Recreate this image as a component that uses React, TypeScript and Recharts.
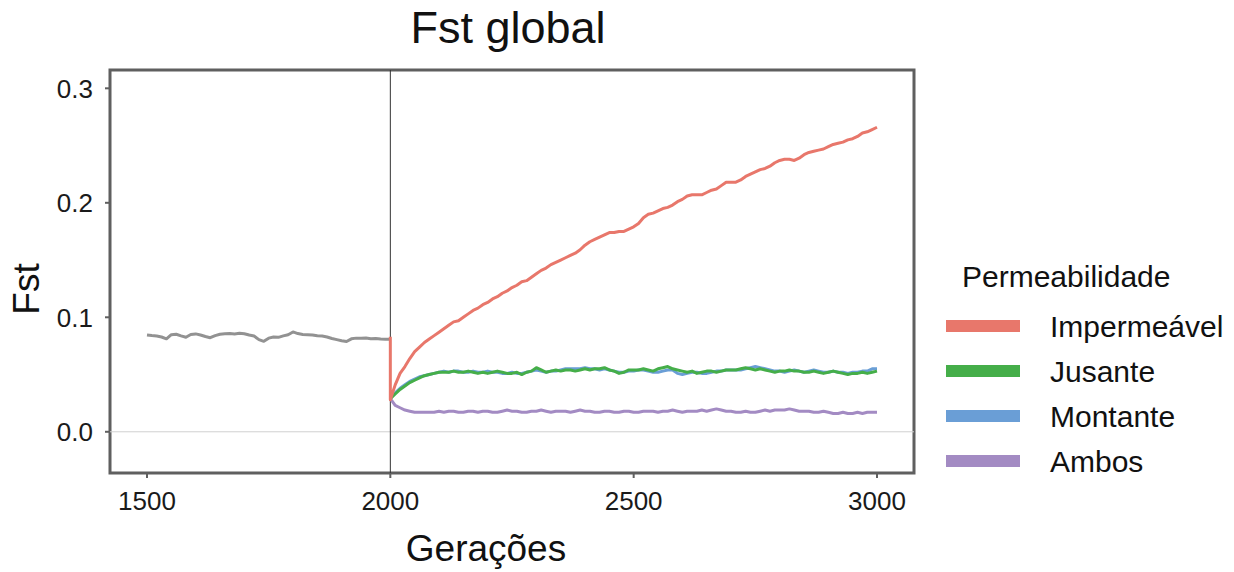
import React from "react";
import { LineChart, Line, XAxis, YAxis, ReferenceLine, ReferenceArea } from "recharts";

const FONT = "'Liberation Sans', Arial, sans-serif";

// gerações: pre-fragmentation 1500..2000, post 2000..3000, every 10 generations
const PRE_START = 1500;
const POST_START = 2000;
const STEP = 10;

const antesValores = [
  0.0845, 0.084, 0.0836, 0.0828, 0.0812, 0.0848, 0.0852, 0.0838, 0.0826, 0.085,
  0.0855, 0.0845, 0.0832, 0.0822, 0.084, 0.0852, 0.0856, 0.0858, 0.0855, 0.086,
  0.0856, 0.0845, 0.0836, 0.0805, 0.079, 0.0818, 0.0828, 0.0825, 0.0838, 0.0848,
  0.0872, 0.0858, 0.085, 0.0848, 0.0845, 0.0838, 0.0836, 0.0828, 0.0815, 0.0805,
  0.0795, 0.0788, 0.0812, 0.0818, 0.0818, 0.082, 0.0812, 0.0815, 0.081, 0.0808,
  0.0808,
];

const impermeavel = [
  0.028, 0.041, 0.051, 0.057, 0.064, 0.07, 0.074, 0.078, 0.081, 0.084,
  0.087, 0.09, 0.093, 0.096, 0.097, 0.1, 0.103, 0.106, 0.108, 0.111,
  0.113, 0.116, 0.118, 0.121, 0.123, 0.126, 0.128, 0.131, 0.132, 0.135,
  0.138, 0.141, 0.143, 0.146, 0.148, 0.15, 0.152, 0.154, 0.156, 0.159,
  0.163, 0.166, 0.168, 0.17, 0.172, 0.174, 0.174, 0.175, 0.175, 0.177,
  0.179, 0.182, 0.187, 0.19, 0.191, 0.193, 0.195, 0.196, 0.198, 0.201,
  0.203, 0.206, 0.207, 0.207, 0.207, 0.209, 0.211, 0.212, 0.215, 0.218,
  0.218, 0.218, 0.22, 0.223, 0.225, 0.227, 0.229, 0.23, 0.232, 0.235,
  0.237, 0.238, 0.238, 0.237, 0.239, 0.242, 0.244, 0.245, 0.246, 0.247,
  0.249, 0.251, 0.252, 0.253, 0.255, 0.256, 0.258, 0.261, 0.262, 0.264,
  0.266,
];

const jusante = [
  0.029, 0.033, 0.037, 0.04, 0.043, 0.045, 0.047, 0.049, 0.05, 0.051,
  0.052, 0.052, 0.052, 0.053, 0.052, 0.052, 0.053, 0.052, 0.051, 0.052,
  0.051, 0.052, 0.053, 0.052, 0.051, 0.051, 0.052, 0.05, 0.052, 0.053,
  0.056, 0.054, 0.052, 0.053, 0.054, 0.053, 0.054, 0.054, 0.053, 0.054,
  0.055, 0.054, 0.055, 0.055, 0.056, 0.054, 0.053, 0.051, 0.052, 0.054,
  0.054, 0.054, 0.055, 0.054, 0.053, 0.055, 0.056, 0.057, 0.055, 0.054,
  0.053, 0.052, 0.053, 0.051, 0.052, 0.053, 0.053, 0.052, 0.053, 0.054,
  0.054, 0.054, 0.055, 0.056, 0.055, 0.054, 0.055, 0.054, 0.053, 0.052,
  0.053, 0.053, 0.054, 0.053, 0.053, 0.052, 0.052, 0.053, 0.052, 0.051,
  0.052, 0.053, 0.052, 0.051, 0.05, 0.051, 0.051, 0.052, 0.051, 0.052,
  0.053,
];

const montante = [
  0.029, 0.034, 0.038, 0.041, 0.044, 0.046, 0.048, 0.049, 0.05, 0.051,
  0.052, 0.053, 0.052, 0.053, 0.053, 0.052, 0.052, 0.053, 0.052, 0.052,
  0.053, 0.052, 0.052, 0.051, 0.051, 0.052, 0.051, 0.051, 0.052, 0.053,
  0.054, 0.053, 0.052, 0.053, 0.053, 0.054, 0.055, 0.055, 0.055, 0.055,
  0.056, 0.055, 0.055, 0.054, 0.055, 0.054, 0.053, 0.052, 0.052, 0.053,
  0.053, 0.054, 0.054, 0.053, 0.052, 0.052, 0.053, 0.054, 0.054, 0.051,
  0.05, 0.051, 0.052, 0.052, 0.051, 0.051, 0.052, 0.053, 0.053, 0.054,
  0.054, 0.054, 0.054, 0.055, 0.056, 0.057, 0.056, 0.055, 0.054, 0.053,
  0.053, 0.052, 0.053, 0.054, 0.053, 0.052, 0.053, 0.054, 0.053, 0.052,
  0.052, 0.053, 0.052, 0.052, 0.051, 0.052, 0.052, 0.053, 0.053, 0.055,
  0.055,
];

const ambos = [
  0.029, 0.023, 0.021, 0.019, 0.018, 0.017, 0.017, 0.017, 0.017, 0.017,
  0.018, 0.017, 0.018, 0.018, 0.017, 0.017, 0.018, 0.018, 0.017, 0.018,
  0.018, 0.017, 0.017, 0.018, 0.019, 0.018, 0.018, 0.017, 0.017, 0.018,
  0.018, 0.019, 0.018, 0.017, 0.018, 0.018, 0.018, 0.017, 0.018, 0.019,
  0.018, 0.018, 0.017, 0.017, 0.018, 0.018, 0.017, 0.017, 0.018, 0.018,
  0.017, 0.017, 0.018, 0.018, 0.018, 0.017, 0.018, 0.018, 0.019, 0.018,
  0.017, 0.018, 0.018, 0.018, 0.019, 0.018, 0.019, 0.02, 0.019, 0.018,
  0.018, 0.017, 0.017, 0.018, 0.017, 0.017, 0.018, 0.019, 0.018, 0.019,
  0.019, 0.019, 0.02, 0.019, 0.018, 0.018, 0.018, 0.017, 0.017, 0.018,
  0.017, 0.016, 0.016, 0.017, 0.016, 0.016, 0.017, 0.016, 0.017, 0.017,
  0.017,
];

// Fst right before the drop, top of the red vertical segment
const impermeavelInicio = 0.083;

const xTicks = [1500, 2000, 2500, 3000];
const yTicks = [0, 0.1, 0.2, 0.3];
const X_DOMAIN: [number, number] = [1424, 3076];
const Y_DOMAIN: [number, number] = [-0.036, 0.316];

const series = [
  { name: "Impermeável", color: "#E8776B", values: impermeavel },
  { name: "Jusante", color: "#45AE49", values: jusante },
  { name: "Montante", color: "#6A9ED6", values: montante },
  { name: "Ambos", color: "#A38BC3", values: ambos },
];

const toPoints = (start: number, values: number[]) =>
  values.map((v, i) => ({ g: start + i * STEP, v }));

const antes = toPoints(PRE_START, antesValores);
const redPts = [{ g: POST_START, v: impermeavelInicio }, ...toPoints(POST_START, impermeavel)];

const tickStyle = { fill: "#1a1a1a", fontSize: 26, fontFamily: FONT };

export default function App() {
  const lineProps = { dataKey: "v", dot: false, activeDot: false, isAnimationActive: false, strokeWidth: 3, type: "linear" as const, strokeLinejoin: "round" as const };
  return (
    <div style={{ position: "absolute", left: 0, top: 0, width: 1234, height: 572, background: "#fff", fontFamily: FONT, color: "#111" }}>
      <LineChart width={1234} height={572} margin={{ top: 70, right: 320, bottom: 49, left: 50 }}>
        <XAxis
          type="number"
          dataKey="g"
          domain={X_DOMAIN}
          ticks={xTicks}
          allowDataOverflow
          axisLine={false}
          tickLine={{ stroke: "#5f5f5f", strokeWidth: 2 }}
          tickSize={5}
          tickMargin={14}
          height={50}
          tick={tickStyle}
        />
        <YAxis
          type="number"
          domain={Y_DOMAIN}
          ticks={yTicks}
          allowDataOverflow
          axisLine={false}
          tickLine={{ stroke: "#5f5f5f", strokeWidth: 2 }}
          tickSize={5}
          tickMargin={12}
          width={60}
          tick={tickStyle}
          tickFormatter={(v: number) => v.toFixed(1)}
        />
        <ReferenceLine y={0} stroke="#d0d0d0" strokeWidth={1} />
        <ReferenceLine x={2000} stroke="#333" strokeWidth={1} />
        <Line {...lineProps} data={antes} stroke="#929292" />
        <Line {...lineProps} data={toPoints(POST_START, ambos)} stroke={series[3].color} />
        <Line {...lineProps} data={toPoints(POST_START, montante)} stroke={series[2].color} />
        <Line {...lineProps} data={toPoints(POST_START, jusante)} stroke={series[1].color} />
        <Line {...lineProps} data={redPts} stroke={series[0].color} />
        <ReferenceArea x1={X_DOMAIN[0]} x2={X_DOMAIN[1]} y1={Y_DOMAIN[0]} y2={Y_DOMAIN[1]} fill="none" stroke="#5f5f5f" strokeWidth={3} />
      </LineChart>

      <div style={{ position: "absolute", left: 308, width: 400, top: 5, fontSize: 45, lineHeight: "45px", textAlign: "center" }}>
        Fst global
      </div>
      <div style={{ position: "absolute", left: 286, width: 400, top: 530, fontSize: 37, lineHeight: "37px", textAlign: "center" }}>
        Gerações
      </div>
      <div style={{ position: "absolute", left: 26, top: 289, fontSize: 37, lineHeight: "37px", transform: "translate(-50%, -50%) rotate(-90deg)", whiteSpace: "nowrap" }}>
        Fst
      </div>

      <div style={{ position: "absolute", left: 962, top: 262, fontSize: 30, lineHeight: "30px" }}>Permeabilidade</div>
      {series.map((s, i) => {
        const cy = 326 + i * 45;
        return (
          <React.Fragment key={s.name}>
            <div style={{ position: "absolute", left: 946, top: cy - 6, width: 74, height: 12, background: s.color }} />
            <div style={{ position: "absolute", left: 1050, top: cy - 14, fontSize: 30, lineHeight: "30px", whiteSpace: "nowrap" }}>{s.name}</div>
          </React.Fragment>
        );
      })}
    </div>
  );
}
